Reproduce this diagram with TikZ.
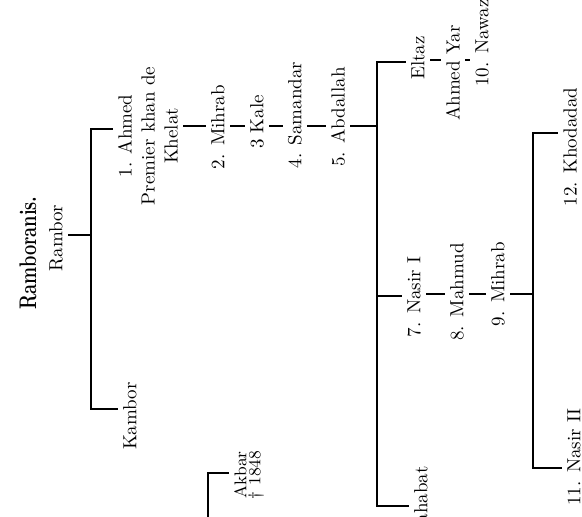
\documentclass[tikz,border=0pt]{standalone}
\usepackage{tikz}
\usepackage{graphicx}

\begin{document}
\begin{tikzpicture}[
    x=0.5pt, y=-0.5pt,
    font=\fontsize{9.5}{11.5}\selectfont,
    person/.style={
        rotate=90,
        inner sep=2.5pt,
        align=center
    },
    heading/.style={
        rotate=90,
        inner sep=1pt,
        font=\fontsize{12}{14}\selectfont\bfseries
    },
    link/.style={
        line width=0.55pt
    }
]
\useasboundingbox (0,0) rectangle (582,516);
\clip (0,0) rectangle (582,516);

% Heading and root
\node[heading] (title) at (28,253) {\scalebox{0.76}[1]{Ramboranis.}};
\node[person] (rambor) at (56,238) {Rambor};

% Sons of Rambor
\node[person] (kambor) at (130,416) {Kambor};
\node[person] (ahmed) at (148,136) {1. Ahmed\\Premier khan de\\Khelat};

\coordinate (fork1) at (91,235);
\coordinate (k1) at (91,129);
\coordinate (k2) at (91,409);
\draw[link] (rambor.south |- fork1) -- (fork1);
\draw[link] (ahmed.north |- k1) -- (k1) -- (k2) -- (kambor.north |- k2);

% Line of the khans
\node[person] (mihrab2) at (218,127) {2. Mihrab};
\node[person] (kale) at (257,122) {3 Kale};
\node[person] (samandar) at (295,115) {4. Samandar};
\node[person] (abdallah) at (338,117) {5. Abdallah};

\coordinate (spine) at (0,126);
\draw[link] (ahmed.south |- spine) -- (mihrab2.north |- spine);
\draw[link] (mihrab2.south |- spine) -- (kale.north |- spine);
\draw[link] (kale.south |- spine) -- (samandar.north |- spine);
\draw[link] (samandar.south |- spine) -- (abdallah.north |- spine);

% Sons of Abdallah
\node[person] (eltaz) at (418,58) {Eltaz};
\node[person] (ahmedyar) at (453,73) {Ahmed Yar};
\node[person] (nawaz) at (482,43) {10. Nawaz};
\node[person] (nasir1) at (414,297) {7. Nasir I};
\node[person] (mahmud) at (457,292) {8. Mahmud};
\node[person] (mihrab9) at (498,284) {9. Mihrab};
\node[person, anchor=east] (mahabat) at (421,461) {Mahabat};

\coordinate (b2top) at (377,62);
\coordinate (b2mid) at (377,296);
\coordinate (b2bot) at (377,506);
\draw[link] (abdallah.south |- spine) -- (spine -| b2top);
\draw[link] (eltaz.north |- b2top) -- (b2top) -- (b2bot) -- (mahabat.north |- b2bot);
\draw[link] (b2mid) -- (nasir1.north |- b2mid);

\coordinate (row1) at (0,60);
\draw[link] (eltaz.south |- row1) -- (ahmedyar.north |- row1);
\draw[link] (ahmedyar.south |- row1) -- (nawaz.north |- row1);

\coordinate (row2) at (0,294);
\draw[link] (nasir1.south |- row2) -- (mahmud.north |- row2);
\draw[link] (mahmud.south |- row2) -- (mihrab9.north |- row2);

% Sons of Mihrab
\node[person] (khodadad) at (570,147) {12. Khodadad};
\node[person] (nasir2) at (574,457) {11. Nasir II};

\coordinate (b3top) at (533,133);
\coordinate (b3bot) at (533,468);
\draw[link] (mihrab9.south |- row2) -- (row2 -| b3top);
\draw[link] (khodadad.north |- b3top) -- (b3top) -- (b3bot) -- (nasir2.north |- b3bot);

% Akbar
\node[person, font=\fontsize{8.5}{7}\selectfont] (akbar) at (249,475) {Akbar\\\dag\ 1848};
\coordinate (b4) at (208,473);
\coordinate (b4end) at (208,530);
\draw[link] (akbar.north |- b4) -- (b4) -- (b4end);

\end{tikzpicture}
\end{document}
